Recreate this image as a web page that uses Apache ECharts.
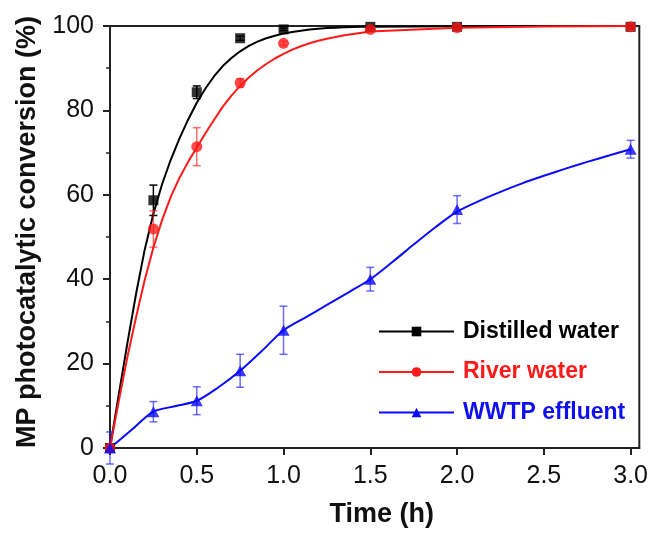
<!DOCTYPE html>
<html>
<head>
<meta charset="utf-8">
<script src="https://cdn.jsdelivr.net/npm/echarts@6/dist/echarts.min.js"></script>
<style>html,body{margin:0;padding:0;background:#fff}#c{width:651px;height:533px}</style>
</head>
<body>
<div id="c"></div>
<script>
// Measured points
const timePts = [0, 0.25, 0.5, 0.75, 1.0, 1.5, 2.0, 3.0];
const distilled = [0, 58.7, 84.3, 97.1, 99.2, 99.8, 99.8, 99.8];
const distilledErr = [0.5, 3.6, 1.5, 0.5, 0.3, 0.3, 0.3, 0.3];
const river = [0, 51.9, 71.4, 86.5, 95.9, 99.2, 99.6, 99.8];
const riverErr = [0.5, 4.3, 4.5, 1.0, 0.5, 0.3, 0.3, 0.3];
const wwtp = [0, 8.6, 11.2, 18.3, 27.9, 40.0, 56.5, 70.8];
const wwtpErr = [3.8, 2.4, 3.3, 3.9, 5.7, 2.8, 3.3, 2.1];
// Fitted curves
const fitTime = [0, 0.05, 0.1, 0.15, 0.2, 0.25, 0.3, 0.35, 0.4, 0.45, 0.5, 0.55, 0.6, 0.65, 0.7, 0.75, 0.8, 0.85, 0.9, 0.95, 1.0,
  1.05, 1.1, 1.15, 1.2, 1.25, 1.3, 1.35, 1.4, 1.45, 1.5, 2.0, 2.5, 3.0];
const distilledFit = [0, 12.5, 24.8, 36.5, 47, 55.5, 62.5, 68.3, 73.3, 77.8, 81.8, 85.2, 88.1, 90.5, 92.4, 94.0, 95.3, 96.3, 97.1, 97.7, 98.2,
  98.6, 98.9, 99.15, 99.35, 99.5, 99.6, 99.7, 99.75, 99.8, 99.85, 99.95, 100, 100];
const riverFit = [0, 11, 21.5, 31, 39.8, 47.5, 54, 59.5, 64, 67.8, 71.2, 74.6, 77.8, 80.9, 83.5, 85.8, 87.8, 89.5, 91, 92.3, 93.4,
  94.4, 95.2, 95.9, 96.5, 97, 97.4, 97.8, 98.1, 98.4, 98.7, 99.6, 99.9, 100];
// WWTP connecting spline
const wwtpLineTime = [0, 0.125, 0.25, 0.375, 0.5, 0.625, 0.75, 0.875, 1.0, 1.125, 1.25, 1.375, 1.5, 1.625, 1.75, 1.875, 2.0,
  2.125, 2.25, 2.375, 2.5, 2.625, 2.75, 2.875, 3.0];
const wwtpLine = [0, 4.3, 8.6, 9.9, 11.2, 14.4, 18.3, 23.0, 27.9, 30.9, 33.9, 36.9, 40.0, 44.0, 48.2, 52.3, 56.0,
  58.5, 60.7, 62.7, 64.5, 66.2, 67.8, 69.3, 70.8];
// Axis ticks
const xTicks = [0, 0.5, 1.0, 1.5, 2.0, 2.5, 3.0];
const seriesNames = ['Distilled water', 'River water', 'WWTP effluent'];

const FONT = "'Liberation Sans',Arial,sans-serif";
const pairs = (xs, ys) => xs.map((x, i) => [x, ys[i]]);
const errData = (ys, es) => timePts.map((x, i) => [x, ys[i] - es[i], ys[i] + es[i]]);

function errSeries(data, color, z) {
  return {
    type: 'custom', silent: true, z: z,
    data: data,
    encode: { x: 0, y: [1, 2] },
    renderItem: function (params, api) {
      const x = api.value(0);
      const lo = api.coord([x, api.value(1)]);
      const hi = api.coord([x, api.value(2)]);
      const w = 4;
      const st = { stroke: color, lineWidth: 1.5 };
      return {
        type: 'group',
        children: [
          { type: 'line', shape: { x1: lo[0], y1: lo[1], x2: hi[0], y2: hi[1] }, style: st },
          { type: 'line', shape: { x1: lo[0] - w, y1: lo[1], x2: lo[0] + w, y2: lo[1] }, style: st },
          { type: 'line', shape: { x1: hi[0] - w, y1: hi[1], x2: hi[0] + w, y2: hi[1] }, style: st }
        ]
      };
    }
  };
}

function mkLegend(name, color, top) {
  return {
    top: top, left: 378, padding: 0, orient: 'vertical',
    itemWidth: 75, itemHeight: 12,
    data: [{ name: name, textStyle: { color: color } }],
    textStyle: { fontFamily: FONT, fontWeight: 'bold', fontSize: 23, padding: [0, 0, 0, 4] },
    selectedMode: false
  };
}

const chart = echarts.init(document.getElementById('c'), null, { renderer: 'canvas' });
chart.setOption({
  animation: false,
  backgroundColor: '#fff',
  grid: { left: 110, right: 11, top: 26, bottom: 81, show: true, borderColor: '#222', borderWidth: 2, backgroundColor: 'transparent' },
  legend: [
    mkLegend(seriesNames[0], '#000', 320),
    mkLegend(seriesNames[1], '#ff1a1a', 360.5),
    mkLegend(seriesNames[2], '#1010ee', 401)
  ],
  xAxis: {
    type: 'value', min: 0, max: 3.05,
    name: 'Time (h)', nameLocation: 'middle', nameGap: 53,
    nameTextStyle: { fontFamily: FONT, fontWeight: 'bold', fontSize: 27, color: '#111', padding: [0, 0, 0, 14] },
    axisLine: { lineStyle: { color: '#222', width: 2 } },
    axisTick: { show: true, inside: false, length: 7, lineStyle: { color: '#222', width: 2 }, customValues: xTicks },
    axisLabel: { customValues: xTicks, margin: 16, fontFamily: FONT, fontSize: 25, color: '#111', formatter: v => v.toFixed(1) },
    splitLine: { show: false }
  },
  yAxis: {
    type: 'value', min: 0, max: 100, interval: 20,
    name: 'MP photocatalytic conversion (%)', nameLocation: 'middle', nameGap: 68,
    nameTextStyle: { fontFamily: FONT, fontWeight: 'bold', fontSize: 27, color: '#111', padding: [0, 0, 0, 10] },
    axisLine: { show: true, lineStyle: { color: '#222', width: 2 } },
    axisTick: { show: true, inside: false, length: 7, lineStyle: { color: '#222', width: 2 } },
    minorTick: { show: true, splitNumber: 2, length: 4, lineStyle: { color: '#222', width: 1.5 } },
    axisLabel: { margin: 16, fontFamily: FONT, fontSize: 25, color: '#111' },
    splitLine: { show: false }
  },
  series: [
    { name: seriesNames[0], type: 'line', data: pairs(fitTime, distilledFit), smooth: false,
      symbol: 'rect', showSymbol: false, z: 2, color: '#000', lineStyle: { width: 2, color: '#000', join: 'round' }, itemStyle: { color: '#000' } },
    { name: seriesNames[1], type: 'line', data: pairs(fitTime, riverFit), smooth: false,
      symbol: 'circle', showSymbol: false, z: 3, color: '#ff1a1a', lineStyle: { width: 2, color: '#ff1a1a', join: 'round' }, itemStyle: { color: '#ff1a1a' } },
    { name: seriesNames[2], type: 'line', data: pairs(wwtpLineTime, wwtpLine), smooth: 0.3,
      symbol: 'triangle', showSymbol: false, z: 4, color: '#0a0aff', lineStyle: { width: 2, color: '#0a0aff' }, itemStyle: { color: '#0a0aff' } },
    errSeries(errData(distilled, distilledErr), '#000', 4),
    errSeries(errData(river, riverErr), 'rgba(255,30,30,0.65)', 4),
    errSeries(errData(wwtp, wwtpErr), 'rgba(30,30,255,0.65)', 4),
    { name: seriesNames[0], type: 'scatter', data: pairs(timePts, distilled), symbol: 'rect', symbolSize: 10, z: 5,
      itemStyle: { color: '#000' } },
    { name: seriesNames[1], type: 'scatter', data: pairs(timePts, river), symbol: 'circle', symbolSize: 11, z: 6,
      itemStyle: { color: '#ff1a1a' } },
    { name: seriesNames[2], type: 'scatter', data: pairs(timePts, wwtp), symbol: 'triangle', symbolSize: [12, 11], z: 7,
      itemStyle: { color: '#0a0aff' } }
  ]
});
</script>
</body>
</html>
